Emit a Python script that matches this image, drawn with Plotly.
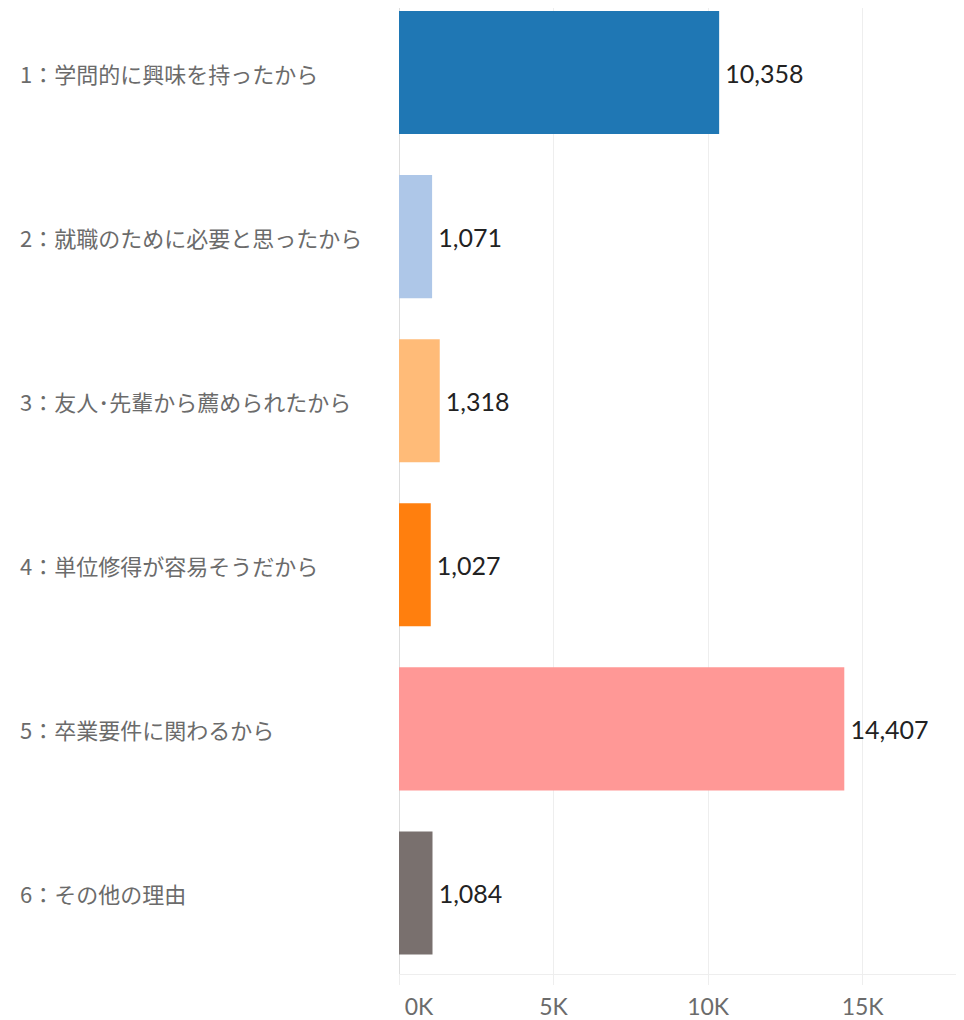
import plotly.graph_objects as go

categories = [
    "1：学問的に興味を持ったから",
    "2：就職のために必要と思ったから",
    "3：友人･先輩から薦められたから",
    "4：単位修得が容易そうだから",
    "5：卒業要件に関わるから",
    "6：その他の理由",
]
values = [10358, 1071, 1318, 1027, 14407, 1084]
colors = ["#1f77b4", "#aec7e8", "#ffbb78", "#ff7f0e", "#ff9896", "#79706e"]
tick_vals = [0, 5000, 10000, 15000]
tick_text = ["\u2007\u2007\u20070K", "5K", "10K", "15K"]

FONT = "Lato, 'Noto Sans CJK JP', sans-serif"
CJK = "'Noto Sans CJK JP', Lato, sans-serif"

fig = go.Figure()
fig.add_trace(go.Bar(
    y=categories,
    x=values,
    orientation="h",
    marker=dict(color=colors, line=dict(width=0)),
    width=0.75,
    text=["\u2009" + f"{v:,}" for v in values],
    textposition="outside",
    textfont=dict(family=FONT, size=25, color="#222222"),
    cliponaxis=False,
    hoverinfo="skip",
))

for c in categories:
    fig.add_annotation(
        x=0.0, xref="paper", xshift=-381, y=c, yref="y",
        text=c, showarrow=False, xanchor="left", yanchor="middle",
        font=dict(family=CJK, size=22, color="#6b6b6b"),
    )

fig.update_layout(
    width=956, height=1012,
    margin=dict(l=391, r=0, t=0, b=46),
    plot_bgcolor="white", paper_bgcolor="white",
    showlegend=False,
    font=dict(family=FONT),
)
fig.update_xaxes(
    range=[0, 18280],
    tickvals=tick_vals, ticktext=tick_text,
    showgrid=True, gridcolor="#eeeeee", gridwidth=1,
    zeroline=True, zerolinecolor="#dddddd", zerolinewidth=1,
    showline=True, linecolor="#eeeeee", linewidth=1,
    ticks="outside", ticklen=10, tickcolor="#eeeeee",
    tickfont=dict(family=FONT, size=23, color="#6b6b6b"),
    ticklabelstandoff=2,
)
fig.update_yaxes(
    categoryorder="array", categoryarray=categories,
    range=[5.494, -0.3935],
    showticklabels=False, showgrid=False, zeroline=False, showline=False,
)

fig.write_html("out.html")
